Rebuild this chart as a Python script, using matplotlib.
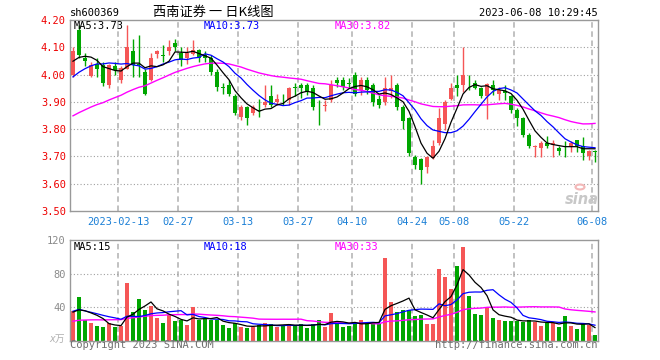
import numpy as np
import pandas as pd
import matplotlib
matplotlib.use("Agg")
import matplotlib.pyplot as plt
from matplotlib.patches import Circle

# ---------------- data ----------------
holidays = ["2023-04-05", "2023-05-01", "2023-05-02", "2023-05-03"]
dates = [d for d in pd.bdate_range("2023-02-01", "2023-06-08").strftime("%Y-%m-%d") if d not in holidays]

open_ = [4.00, 4.165, 4.06, 3.995, 4.04, 4.035, 3.962, 4.03, 3.98, 4.02,
         4.085, 4.04, 4.01, 3.98, 4.075, 4.072, 4.085, 4.115, 4.08, 4.06,
         4.075, 4.09, 4.07, 4.06, 4.01, 3.955, 3.96, 3.92, 3.845, 3.88,
         3.86, 3.87, 3.89, 3.92, 3.90, 3.907, 3.905, 3.955, 3.962, 3.962,
         3.952, 3.89, 3.885, 3.905, 3.98, 3.98, 3.969, 4.00, 3.945, 3.98,
         3.962, 3.91, 3.90, 3.94, 3.962, 3.88, 3.84, 3.697, 3.69, 3.66,
         3.693, 3.748, 3.818, 3.91, 3.962, 3.962, 3.963, 3.968, 3.95, 3.921,
         3.962, 3.93, 3.94, 3.921, 3.87, 3.842, 3.779, 3.735, 3.732, 3.75,
         3.742, 3.732, 3.721, 3.738, 3.76, 3.74, 3.70, 3.72]
close = [4.085, 4.07, 4.05, 4.035, 4.02, 3.97, 4.035, 4.015, 4.025, 4.10,
         4.035, 4.035, 3.93, 4.06, 4.085, 4.068, 4.102, 4.10, 4.055, 4.08,
         4.09, 4.06, 4.06, 4.01, 3.955, 3.95, 3.93, 3.86, 3.88, 3.842,
         3.88, 3.865, 3.90, 3.89, 3.91, 3.905, 3.95, 3.95, 3.952, 3.937,
         3.882, 3.887, 3.89, 3.96, 3.97, 3.955, 3.966, 3.93, 3.98, 3.945,
         3.90, 3.888, 3.95, 3.952, 3.882, 3.83, 3.712, 3.67, 3.65, 3.697,
         3.738, 3.84, 3.90, 3.952, 3.952, 4.00, 3.96, 3.952, 3.92, 3.964,
         3.943, 3.943, 3.932, 3.87, 3.842, 3.779, 3.74, 3.738, 3.75, 3.74,
         3.75, 3.72, 3.719, 3.75, 3.74, 3.712, 3.72, 3.718]
high = [4.10, 4.18, 4.08, 4.045, 4.06, 4.045, 4.04, 4.045, 4.03, 4.18,
        4.13, 4.145, 4.02, 4.08, 4.09, 4.11, 4.125, 4.13, 4.10, 4.10,
        4.125, 4.095, 4.085, 4.07, 4.02, 3.97, 3.98, 3.93, 3.89, 3.885,
        3.89, 3.91, 3.96, 3.96, 3.93, 3.93, 3.955, 3.97, 3.97, 3.97,
        3.96, 3.905, 3.905, 3.98, 3.99, 3.99, 3.989, 4.008, 3.992, 3.99,
        3.97, 3.925, 3.992, 4.00, 3.968, 3.89, 3.846, 3.705, 3.693, 3.70,
        3.76, 3.878, 3.907, 3.968, 4.00, 4.102, 4.00, 3.98, 3.956, 3.968,
        3.98, 3.955, 3.96, 3.925, 3.876, 3.846, 3.785, 3.742, 3.757, 3.775,
        3.76, 3.74, 3.757, 3.757, 3.762, 3.772, 3.724, 3.724]
low = [3.99, 4.06, 4.03, 3.99, 3.99, 3.958, 3.95, 4.00, 3.97, 4.02,
       3.99, 3.99, 3.925, 3.975, 4.06, 4.045, 4.07, 4.085, 4.03, 4.04,
       4.07, 4.045, 4.045, 4.00, 3.94, 3.93, 3.92, 3.85, 3.835, 3.815,
       3.85, 3.845, 3.88, 3.88, 3.89, 3.89, 3.89, 3.92, 3.915, 3.925,
       3.87, 3.815, 3.865, 3.90, 3.955, 3.945, 3.952, 3.92, 3.925, 3.93,
       3.885, 3.878, 3.89, 3.913, 3.87, 3.80, 3.70, 3.654, 3.598, 3.638,
       3.69, 3.742, 3.797, 3.907, 3.92, 3.935, 3.943, 3.947, 3.913, 3.837,
       3.925, 3.907, 3.907, 3.858, 3.81, 3.772, 3.73, 3.697, 3.697, 3.73,
       3.697, 3.705, 3.697, 3.718, 3.718, 3.687, 3.687, 3.68]
volume = [35.6, 51.6, 24.4, 21.2, 17.6, 16.3, 21.2, 16.3, 17.6, 68.2,
          33.5, 50.0, 36.8, 41.6, 27.2, 21.1, 30.8, 22.8, 24.2, 18.0,
          39.6, 24.0, 25.2, 24.0, 24.4, 18.0, 15.2, 21.2, 16.4, 15.2,
          16.4, 18.0, 21.2, 19.6, 16.4, 18.0, 20.0, 17.6, 19.6, 14.8,
          19.6, 24.8, 16.4, 33.4, 19.8, 16.6, 17.8, 20.6, 24.6, 20.6,
          22.2, 19.8, 98.6, 46.5, 34.3, 36.8, 36.8, 28.7, 30.7, 19.4,
          20.2, 85.6, 76.0, 61.0, 88.9, 111.9, 53.7, 31.9, 29.9, 40.4,
          27.1, 24.6, 23.4, 23.4, 23.4, 22.2, 24.6, 22.6, 17.5, 21.0,
          21.0, 16.5, 29.5, 17.0, 14.0, 20.0, 19.0, 7.0]

# closes / volumes of the 29 sessions before the window (only feed the moving averages)
pre_close = [3.72, 3.74, 3.73, 3.75, 3.76, 3.74, 3.75, 3.77, 3.76, 3.75,
             3.78, 3.77, 3.76, 3.78, 3.79, 3.80, 3.81, 3.83, 3.86, 3.90,
             3.90, 3.92, 3.93, 3.95, 3.97, 4.00, 4.03, 4.05, 4.08]
pre_volume = [15, 18, 14, 16, 20, 17, 13, 15, 19, 16, 18, 14, 17, 21, 16, 15, 18, 20, 19, 19,
              30, 42, 38, 35, 35, 38, 30, 34, 32]

tick_dates = ["2023-02-13", "2023-02-27", "2023-03-13", "2023-03-27", "2023-04-10",
              "2023-04-24", "2023-05-08", "2023-05-22", "2023-06-08"]
tick_labels = ["2023-02-13", "02-27", "03-13", "03-27", "04-10", "04-24", "05-08", "05-22", "06-08"]
price_ticks = [3.50, 3.60, 3.70, 3.80, 3.90, 4.00, 4.10, 4.20]
vol_ticks = [40, 80, 120]
price_ma_text = ["MA5:3.73", "MA10:3.73", "MA30:3.82"]
vol_ma_text = ["MA5:15", "MA10:18", "MA30:33"]

# ---------------- computed series ----------------
n = len(close)
cs = pd.Series(pre_close + close)
vs = pd.Series(pre_volume + volume)
ma = {w: cs.rolling(w).mean().values[-n:] for w in (5, 10, 30)}
vma = {w: vs.rolling(w).mean().values[-n:] for w in (5, 10, 30)}

RED = "#f55656"
GREEN = "#00a600"
colors = [RED if c >= o else GREEN for o, c in zip(open_, close)]
x = np.arange(n)
tick_pos = [dates.index(d) - 0.45 for d in tick_dates]

MONO = "DejaVu Sans Mono"
FS = 7

W, H = 660, 360
fig = plt.figure(figsize=(W / 100, H / 100), dpi=100)
fig.patch.set_facecolor("white")


def box(l, t, r, b):
    return [l / W, 1 - b / H, (r - l) / W, (b - t) / H]


ax = fig.add_axes(box(70, 20, 598, 211))
axv = fig.add_axes(box(70, 240, 598, 340.5))

for a in (ax, axv):
    a.set_xlim(-0.5, n - 0.5)
    for s in a.spines.values():
        s.set_color("#999999")
        s.set_linewidth(1.0)
    a.tick_params(length=0)
    for p in tick_pos:
        a.axvline(p, color="#b0b0b0", lw=1.1, ls=(0, (3.6, 2.4)), zorder=0)

# ---- price pane ----
ax.set_ylim(3.50, 4.20)
for lvl in price_ticks[1:-1]:
    ax.axhline(lvl, color="#a0a0a0", lw=0.8, ls=(0, (1, 2)), zorder=0)

body_bottom = [min(o, c) for o, c in zip(open_, close)]
body_h = [max(abs(c - o), 0.0025) for o, c in zip(open_, close)]
ax.vlines(x, low, high, colors=colors, lw=1.0, zorder=2)
ax.bar(x, body_h, bottom=body_bottom, width=0.8, color=colors, linewidth=0, zorder=3)

ax.plot(x, ma[30], color="#ff00ff", lw=1.0, zorder=4)
ax.plot(x, ma[10], color="#0000ff", lw=0.9, zorder=4)
ax.plot(x, ma[5], color="black", lw=0.9, zorder=5)

ax.set_yticks(price_ticks)
ax.set_yticklabels([f"{v:.2f}" for v in price_ticks], color="#ee0000", family=MONO, fontsize=7.5)
ax.tick_params(axis="y", pad=3)
ax.set_xticks(tick_pos)
ax.set_xticklabels(tick_labels, color="#1a7fd6", family=MONO, fontsize=7.5)
ax.tick_params(axis="x", pad=4)

# ---- volume pane ----
axv.set_ylim(0, 120)
for lvl in vol_ticks[:-1]:
    axv.axhline(lvl, color="#a0a0a0", lw=0.8, ls=(0, (1, 2)), zorder=0)
axv.bar(x, volume, width=0.8, color=colors, linewidth=0, zorder=2)
axv.plot(x, vma[30], color="#ff00ff", lw=1.0, zorder=3)
axv.plot(x, vma[10], color="#0000ff", lw=0.9, zorder=3)
axv.plot(x, vma[5], color="black", lw=0.9, zorder=4)
axv.set_yticks(vol_ticks)
axv.set_yticklabels([str(v) for v in vol_ticks], color="#8a8a8a", family=MONO, fontsize=7.5)
axv.tick_params(axis="y", pad=3)
axv.set_xticks([])


def ftext(px, py, s, **kw):
    fig.text(px / W, 1 - py / H, s, **kw)


# header
ftext(70, 13, "sh600369", family=MONO, fontsize=FS + 0.5, va="center", ha="left", color="black")
ftext(213, 12.5, "西南证券 一 日K线图", family=["Noto Sans CJK SC", "DejaVu Sans"], fontsize=9.5,
      va="center", ha="center", color="black")
ftext(597.5, 12.5, "2023-06-08 10:29:45", family=MONO, fontsize=FS + 0.5, va="center", ha="right", color="black")

# MA legends
ma_cols = ["black", "#0000ff", "#ff00ff"]
for txt, col, px in zip(price_ma_text, ma_cols, (74, 204, 335)):
    ftext(px, 26, txt, family=MONO, fontsize=FS + 0.5, va="center", ha="left", color=col)
for txt, col, px in zip(vol_ma_text, ma_cols, (74, 204, 335)):
    ftext(px, 246.5, txt, family=MONO, fontsize=FS + 0.5, va="center", ha="left", color=col)

# volume unit
ftext(65, 339, "x万", family=[MONO, "Noto Sans CJK SC"], fontsize=7, style="italic",
      va="center", ha="right", color="#b0b0b0")

# footer
ftext(70, 345.5, "Copyright 2023 SINA.COM", family=MONO, fontsize=FS + 0.5, va="center", ha="left", color="#707070")
ftext(597.5, 345.5, "http://finance.sina.com.cn", family=MONO, fontsize=FS + 0.5, va="center", ha="right", color="#707070")

# sina watermark
ftext(582, 199, "sina", family="DejaVu Sans", fontsize=10.5, weight="bold", style="italic",
      va="center", ha="center", color="#c8c8c8")
fig.patches.append(Circle((580 / W, 1 - 187 / H), 4.5 / W, transform=fig.transFigure,
                          facecolor="none", edgecolor="#f3b8b8", lw=1.5))

fig.savefig("out.png", dpi=100, facecolor="white")
